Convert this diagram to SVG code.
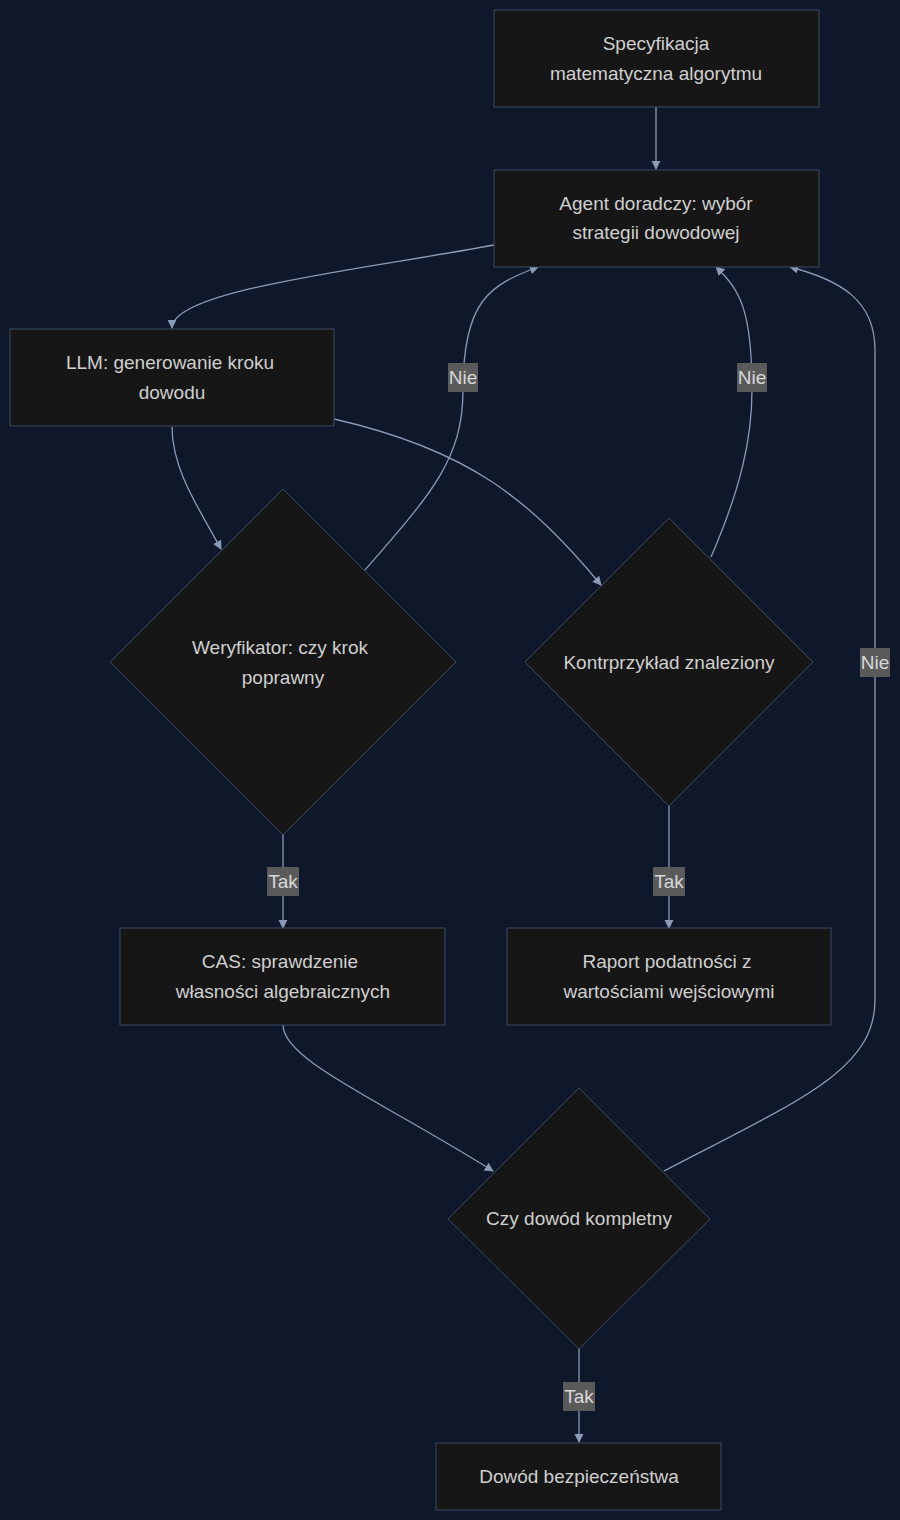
<svg xmlns="http://www.w3.org/2000/svg" width="900" height="1520" viewBox="0 0 900 1520">
<style>
.n{fill:#161616;stroke:#3a4a63;stroke-width:1}
.t{font-family:"Liberation Sans",Arial,sans-serif;font-size:19px;fill:#cfcfcf;text-anchor:middle}
.e{fill:none;stroke:#8a9bb5;stroke-width:1.3}
.lb{fill:#5a5a5a}
.lt{font-family:"Liberation Sans",Arial,sans-serif;font-size:19px;fill:#d8d8d8;text-anchor:middle}
</style>
<defs><marker id="a" viewBox="0 0 10 10" refX="9" refY="5" markerWidth="7" markerHeight="7" orient="auto"><path d="M0,0L10,5L0,10z" fill="#8a9bb5"/></marker></defs>
<rect width="900" height="1520" fill="#0f172a"/>
<g id="connectors">
<path class="e" marker-end="url(#a)" d="M656,107V169"/>
<path class="e" marker-end="url(#a)" d="M494,245C360,270 172,290 172,328"/>
<path class="e" marker-end="url(#a)" d="M172,427C172,470 200,510 221,549"/>
<path class="e" marker-end="url(#a)" d="M334,419C470,450 530,500 601,585"/>
<path class="e" marker-end="url(#a)" d="M365,570C430,495 463,460 463,390C463,300 490,285 538,267"/>
<path class="e" marker-end="url(#a)" d="M711,557C740,490 752,440 752,390C752,310 740,290 716,267"/>
<path class="e" marker-end="url(#a)" d="M283,835V928"/>
<path class="e" marker-end="url(#a)" d="M669,806V928"/>
<path class="e" marker-end="url(#a)" d="M283,1025C283,1060 380,1100 493,1171"/>
<path class="e" marker-end="url(#a)" d="M664,1171C800,1100 875,1070 875,1000V350C875,300 840,280 790,267"/>
<path class="e" marker-end="url(#a)" d="M579,1349V1442"/>
<rect class="lb" x="448" y="363" width="30" height="29"/><text class="lt" x="463" y="384">Nie</text>
<rect class="lb" x="737" y="363" width="30" height="29"/><text class="lt" x="752" y="384">Nie</text>
<rect class="lb" x="860" y="648" width="30" height="29"/><text class="lt" x="875" y="669">Nie</text>
<rect class="lb" x="267" y="867" width="32" height="29"/><text class="lt" x="283" y="888">Tak</text>
<rect class="lb" x="653" y="867" width="32" height="29"/><text class="lt" x="669" y="888">Tak</text>
<rect class="lb" x="563" y="1382" width="32" height="29"/><text class="lt" x="579" y="1403">Tak</text>
</g>
<g id="spec"><rect class="n" x="494" y="10" width="325" height="97"/><text class="t" x="656" y="50">Specyfikacja</text><text class="t" x="656" y="80">matematyczna algorytmu</text></g>
<g id="agent"><rect class="n" x="494" y="170" width="325" height="97"/><text class="t" x="656" y="210">Agent doradczy: wybór</text><text class="t" x="656" y="239">strategii dowodowej</text></g>
<g id="llm"><rect class="n" x="10" y="329" width="324" height="97"/><text class="t" x="170" y="369">LLM: generowanie kroku</text><text class="t" x="172" y="399">dowodu</text></g>
<g id="wer"><polygon class="n" points="283,489 456,662 283,835 110,662"/><text class="t" x="280" y="654">Weryfikator: czy krok</text><text class="t" x="283" y="684">poprawny</text></g>
<g id="kontr"><polygon class="n" points="669,518 813,662 669,806 525,662"/><text class="t" x="669" y="669">Kontrprzykład znaleziony</text></g>
<g id="cas"><rect class="n" x="120" y="928" width="325" height="97"/><text class="t" x="280" y="968">CAS: sprawdzenie</text><text class="t" x="283" y="998">własności algebraicznych</text></g>
<g id="raport"><rect class="n" x="507" y="928" width="324" height="97"/><text class="t" x="667" y="968">Raport podatności z</text><text class="t" x="669" y="998">wartościami wejściowymi</text></g>
<g id="czy"><polygon class="n" points="579,1088 710,1219 579,1349 448,1219"/><text class="t" x="579" y="1225">Czy dowód kompletny</text></g>
<g id="dowod"><rect class="n" x="436" y="1443" width="285" height="67"/><text class="t" x="579" y="1483">Dowód bezpieczeństwa</text></g>
</svg>
